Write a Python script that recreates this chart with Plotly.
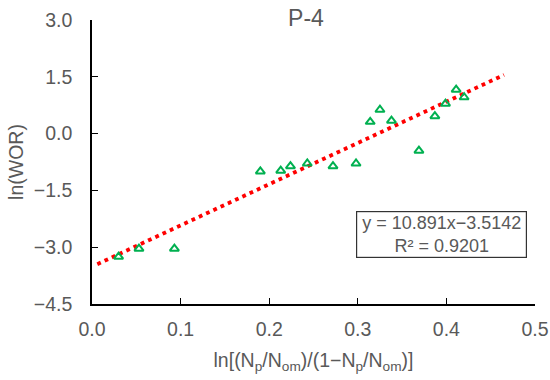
import plotly.graph_objects as go

x_data = [0.030, 0.053, 0.093, 0.190, 0.213, 0.224, 0.243, 0.272, 0.298, 0.314,
          0.325, 0.338, 0.369, 0.387, 0.399, 0.411, 0.420]
y_data = [-3.25, -3.04, -3.04, -1.00, -0.98, -0.86, -0.79, -0.86, -0.79, 0.31,
          0.63, 0.34, -0.45, 0.46, 0.79, 1.16, 0.96]
slope = 10.891
intercept = -3.5142
r2 = 0.9201
fit_x = [0.006, 0.465]
fit_y = [slope * v + intercept for v in fit_x]

grey = "#595959"
font = "Liberation Sans, Arial, sans-serif"
W, H = 550, 380

fig = go.Figure()
fig.add_trace(go.Scatter(x=fit_x, y=fit_y, mode="lines",
                         line=dict(color="#FF0000", width=3.8, dash="3.8px,4.2px"),
                         showlegend=False))
fig.add_trace(go.Scatter(x=x_data, y=y_data, mode="markers",
                         marker=dict(symbol="triangle-up-open", size=8, color="#00B050",
                                     line=dict(width=2, color="#00B050")),
                         showlegend=False))

fig.update_layout(
    width=W, height=H,
    margin=dict(l=92, r=15, t=20, b=76, autoexpand=False),
    paper_bgcolor="white", plot_bgcolor="white",
    font=dict(family=font, color=grey, size=19.5),
    title=dict(text="P-4", x=306 / W, xanchor="center", y=1 - 18 / H, yanchor="middle",
               font=dict(size=23, color=grey, family=font)),
    xaxis=dict(range=[0, 0.5], tickvals=[0, 0.1, 0.2, 0.3, 0.4, 0.5],
               ticktext=["0.0", "0.1", "0.2", "0.3", "0.4", "0.5"],
               showline=True, linecolor="black", linewidth=1.5, automargin=False,
               ticks="inside", ticklen=6, tickcolor="black", showgrid=False, zeroline=False,
               ticklabelstandoff=7,
               title=dict(text="ln[(N<sub>p</sub>/N<sub>om</sub>)/(1−N<sub>p</sub>/N<sub>om</sub>)]",
                          font=dict(size=19.5, color=grey), standoff=14)),
    yaxis=dict(range=[-4.5, 3], tickvals=[-4.5, -3, -1.5, 0, 1.5, 3],
               ticktext=["−4.5", "−3.0", "−1.5", "0.0", "1.5", "3.0"],
               showline=True, linecolor="black", linewidth=1.5, automargin=False,
               ticks="inside", ticklen=6, tickcolor="black", showgrid=False, zeroline=False,
               ticklabelstandoff=14,
               title=dict(text="ln(WOR)", font=dict(size=19.5, color=grey), standoff=5)),
    annotations=[dict(text="y = 10.891x−3.5142<br>R² = 0.9201", xref="paper", yref="paper",
                      x=(441.5 - 92) / 443, y=(304 - 234.5) / 284, xanchor="center", yanchor="middle",
                      showarrow=False, align="center", bordercolor="#333333", borderwidth=1.2,
                      borderpad=0, width=169, height=45,
                      bgcolor="white", font=dict(size=18, color=grey))],
)

fig.write_html("out.html", config={"displayModeBar": False},
               post_script="document.body.style.margin='0';document.body.style.overflow='hidden';")
